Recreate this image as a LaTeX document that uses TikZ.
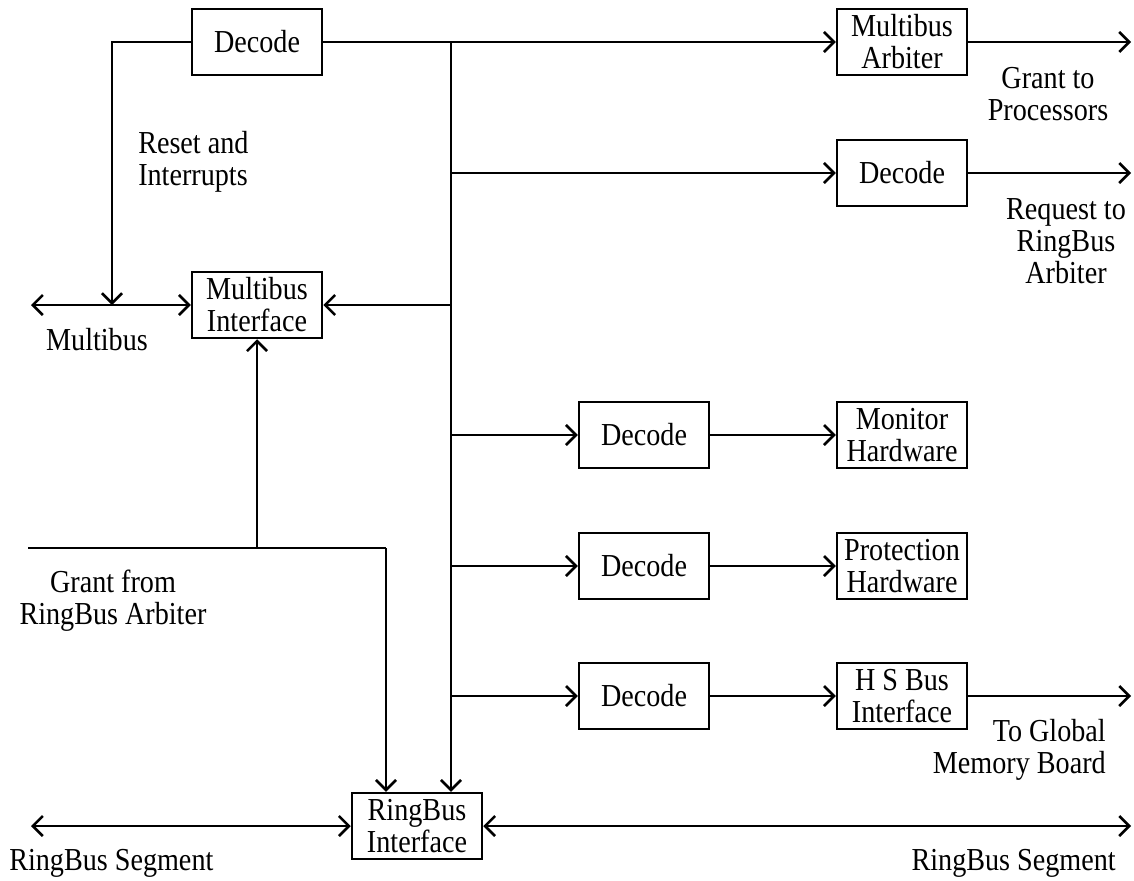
\documentclass[tikz,border=0pt]{standalone}
\usepackage{fontspec}
\setmainfont{Liberation Serif}[FakeStretch=0.88]
\usetikzlibrary{arrows.meta}
\begin{document}
\begin{tikzpicture}[x=1pt,y=-1pt,
  font=\fontsize{32}{32}\selectfont,
  line width=2.5pt,
  box/.style={draw, line width=2.5pt, minimum width=130pt, minimum height=66pt, inner sep=0pt, align=center},
  lbl/.style={inner sep=0pt, align=center},
  ar/.style={-{Straight Barb[length=10pt,width=20pt,line width=2.5pt]}},
  dar/.style={{Straight Barb[length=10pt,width=20pt,line width=2.5pt]}-{Straight Barb[length=10pt,width=20pt,line width=2.5pt]}}]
\useasboundingbox (0,0) rectangle (1134,880);
% boxes
\node[box] (dec0) at (257,42) {Decode};
\node[box] (mba) at (902,42) {Multibus\\Arbiter};
\node[box] (dec1) at (902,173) {Decode};
\node[box] (mbi) at (257,305) {Multibus\\Interface};
\node[box] (decM) at (644,435) {Decode};
\node[box] (monH) at (902,435) {Monitor\\Hardware};
\node[box] (decP) at (644,566) {Decode};
\node[box] (proH) at (902,566) {Protection\\Hardware};
\node[box] (decH) at (644,696) {Decode};
\node[box] (hsb) at (902,696) {H S Bus\\Interface};
\node[box] (rbi) at (417,826) {RingBus\\Interface};
% labels
\node[lbl] (lgp) at (1048,94) {Grant to\\Processors};
\node[lbl] (lrq) at (1066,241) {Request to\\RingBus\\Arbiter};
\node[lbl, align=left, anchor=west] (lri) at (137,162) {Reset and\\Interrupts};
\node[lbl] (lmb) at (97,340) {Multibus};
\node[lbl] (lgf) at (113,601) {Grant from\\RingBus Arbiter};
\node[lbl, align=right, anchor=east] (ltg) at (1107,750) {To Global\\Memory Board};
\node[lbl, anchor=west] (lrsl) at (8,863) {RingBus Segment};
\node[lbl, anchor=east] (lrsr) at (1117,863) {RingBus Segment};
% coordinates
\coordinate (btop) at (451,42);
\coordinate (bdec1) at (451,173);
\coordinate (bmbi) at (451,305);
\coordinate (bM) at (451,435);
\coordinate (bP) at (451,566);
\coordinate (bH) at (451,696);
\coordinate (rst) at (112,42);
\coordinate (rstEnd) at (112,305);
\coordinate (mbL) at (31,305);
\coordinate (gL) at (28,548);
\coordinate (gJ) at (257,548);
\coordinate (gC) at (386,548);
\coordinate (rbL) at (31,826);
\coordinate (rbR) at (1131,826);
\coordinate (o1) at (1131,42);
\coordinate (o2) at (1131,173);
\coordinate (o3) at (1131,696);
% connectors
\draw[ar] (dec0.east) -- (mba.west);
\draw[ar] (btop) -- (btop |- rbi.north);
\draw[ar] (bdec1) -- (dec1.west);
\draw[ar] (bmbi) -- (mbi.east);
\draw[ar] (bM) -- (decM.west);
\draw[ar] (bP) -- (decP.west);
\draw[ar] (bH) -- (decH.west);
\draw[ar] (decM.east) -- (monH.west);
\draw[ar] (decP.east) -- (proH.west);
\draw[ar] (decH.east) -- (hsb.west);
\draw[ar] (mba.east) -- (o1);
\draw[ar] (dec1.east) -- (o2);
\draw[ar] (hsb.east) -- (o3);
\draw[ar] (dec0.west) -- (rst) -- (rstEnd);
\draw[dar] (mbL) -- (mbi.west);
\draw (gL) -- (gC);
\draw[ar] (gC) -- (gC |- rbi.north);
\draw[ar] (gJ) -- (mbi.south);
\draw[dar] (rbL) -- (rbi.west);
\draw[dar] (rbi.east) -- (rbR);
\end{tikzpicture}
\end{document}
